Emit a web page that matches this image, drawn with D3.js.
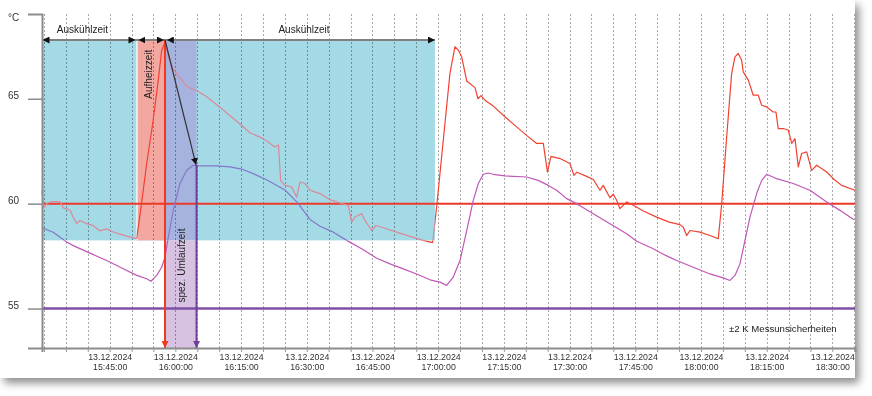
<!DOCTYPE html>
<html><head><meta charset="utf-8">
<script src="https://cdn.jsdelivr.net/npm/d3@7"></script>
<style>
body{margin:0;background:#fff;}
text{font-family:"Liberation Sans",Arial,sans-serif;}
</style>
</head><body>
<svg id="chart" width="872" height="396"></svg>
<script>
// ---------------- data ----------------
const supplyTimes = ["15:29:33","15:30:00","15:30:37","15:31:46","15:33:39","15:34:24","15:35:56","15:36:41","15:37:28","15:38:13","15:39:45","15:41:15","15:42:47","15:44:19","15:45:49","15:47:21","15:48:53","15:51:10","15:52:16","15:53:27","15:54:57","15:56:06","15:56:52","15:57:38","15:58:23","15:59:31","16:02:35","16:05:37","16:07:09","16:10:56","16:14:45","16:17:02","16:20:04","16:22:44","16:23:32","16:24:02","16:25:01","16:26:33","16:27:41","16:28:27","16:29:35","16:30:44","16:33:01","16:35:18","16:37:35","16:39:28","16:40:15","16:41:00","16:42:32","16:43:17","16:44:49","16:45:48","16:47:28","16:50:31","16:53:34","16:56:36","16:58:44","16:59:39","17:01:10","17:02:41","17:03:50","17:04:35","17:05:22","17:06:31","17:08:24","17:09:05","17:09:46","17:10:41","17:12:35","17:15:15","17:17:55","17:20:23","17:22:29","17:24:00","17:24:57","17:25:45","17:27:48","17:30:05","17:31:00","17:31:41","17:33:54","17:35:25","17:36:56","17:37:41","17:39:13","17:39:59","17:40:45","17:41:30","17:43:02","17:44:33","17:46:50","17:49:53","17:52:46","17:55:12","17:55:58","17:56:44","17:57:29","17:59:46","18:02:03","18:03:57","18:04:44","18:05:52","18:07:00","18:07:46","18:08:31","18:09:17","18:09:39","18:10:48","18:11:56","18:13:05","18:13:52","18:15:00","18:16:30","18:17:07","18:17:39","18:18:47","18:19:56","18:20:43","18:21:28","18:22:13","18:22:59","18:24:08","18:25:16","18:26:25","18:28:42","18:30:13","18:32:06","18:35:10"];
const supplyValues = [60.6,59.8,60.0,60.1,60.1,59.8,59.7,59.35,59.05,59.2,59.05,58.95,58.7,58.8,58.65,58.55,58.45,58.33,60.0,61.9,64.0,65.9,67.3,67.7,67.0,66.4,65.6,65.3,65.1,64.46,63.8,63.38,63.1,62.7,62.8,61.1,60.87,60.8,60.3,61.03,60.96,60.64,60.48,60.19,60.03,59.92,59.12,59.36,59.52,59.2,58.72,58.96,58.85,58.64,58.44,58.25,58.14,59.84,63.02,66.2,67.48,67.32,67.0,65.85,65.53,65.0,65.15,64.93,64.65,64.14,63.66,63.22,62.87,62.87,61.5,62.25,62.15,61.91,61.35,61.5,61.3,61.15,60.64,60.87,60.28,60.45,60.16,59.76,60.08,59.92,59.65,59.36,59.12,59.0,58.88,58.48,58.72,58.64,58.48,58.33,60.0,63.18,66.2,67.0,67.16,66.84,66.28,65.89,65.17,65.17,64.69,64.61,64.37,64.37,63.58,63.58,63.5,62.87,63.1,61.75,62.39,62.47,61.59,61.83,61.51,61.19,60.87,60.64];

const returnTimes = ["15:29:33","15:32:07","15:35:11","15:36:41","15:40:30","15:44:19","15:48:06","15:51:10","15:53:27","15:54:26","15:55:44","15:56:52","15:57:38","15:58:23","15:59:31","16:01:03","16:02:35","16:04:05","16:05:37","16:09:26","16:12:28","16:15:08","16:17:47","16:21:08","16:25:01","16:27:53","16:30:44","16:33:01","16:35:41","16:39:07","16:42:32","16:45:58","16:49:00","16:52:02","16:55:05","16:58:08","17:00:25","17:01:56","17:03:27","17:04:59","17:06:31","17:08:01","17:09:10","17:10:18","17:11:26","17:12:35","17:15:15","17:20:12","17:22:51","17:25:08","17:27:03","17:29:20","17:31:37","17:35:25","17:39:13","17:43:02","17:45:19","17:49:07","17:50:38","17:52:46","17:54:27","17:58:14","18:02:03","18:05:05","18:06:37","18:07:46","18:08:54","18:10:03","18:11:11","18:12:43","18:13:52","18:15:00","18:17:17","18:21:04","18:24:53","18:28:42","18:31:44","18:34:56"];
const returnValues = [58.85,58.64,58.17,58.0,57.64,57.29,56.9,56.58,56.42,56.3,56.58,56.97,57.45,58.4,59.68,60.96,61.59,61.83,61.8,61.8,61.75,61.65,61.43,61.1,60.65,60.05,59.25,58.92,58.68,58.25,57.85,57.4,57.13,56.89,56.65,56.37,56.26,56.1,56.5,57.29,58.72,60.16,60.96,61.4,61.46,61.4,61.32,61.27,61.11,60.87,60.64,60.24,60.0,59.52,59.04,58.57,58.21,57.85,57.67,57.45,57.29,56.97,56.65,56.46,56.34,56.58,57.13,58.25,59.36,60.48,61.11,61.4,61.19,60.96,60.64,60.08,59.68,59.23];

const yTickValues = [55, 60, 65];
const yUnit = "°C";
const xTickLabels = ["15:45:00","16:00:00","16:15:00","16:30:00","16:45:00","17:00:00","17:15:00","17:30:00","17:45:00","18:00:00","18:15:00","18:30:00"];
const dateLabel = "13.12.2024";
const xDomain = ["15:29:33","18:35:10"];
const yDomain = [53.12, 69.04];

const limitValues = [60, 55];            // horizontal reference lines
const phaseLabels = ["Auskühlzeit","Aufheizzeit","Auskühlzeit"];
const phaseStarts = ["15:29:33","15:51:14","15:57:38"];
const phaseEnds   = ["15:51:14","15:57:38","16:59:16"];
const bandRange = [58.25, 67.8];
const circulationLabel = "spez. Umlaufzeit";
const circulationSpan = ["15:57:38","16:04:50"];   // supply peak -> return peak
const circulationValues = [67.8, 61.85];
const uncertaintyLabel = "±2 K Messunsicherheiten";

// ---------------- setup ----------------
const parse = d3.timeParse("%H:%M:%S");
const W = 872, H = 396;
const svg = d3.select("#chart");
const x = d3.scaleTime().domain(xDomain.map(parse)).range([42, 855]);
const y = d3.scaleLinear().domain(yDomain).range([348, 14]);

const supply = supplyTimes.map((t,i)=>({t:parse(t), v:supplyValues[i]}));
const ret = returnTimes.map((t,i)=>({t:parse(t), v:returnValues[i]}));

const C = {
  cyan:"#a4dae5", pink:"#f3a7a1", peri:"#a6b3de", lav:"#d7c2e2",
  red:"#f2412f", redMuted:"#d9899b", purple:"#c057b6", purpleMuted:"#8577c9",
  limRed:"#ea3a2a", limPurple:"#7e4fa6", axis:"#8c8c8c", text:"#222"
};

const defs = svg.append("defs");
const f = defs.append("filter").attr("id","shadow").attr("x","-5%").attr("y","-5%").attr("width","112%").attr("height","115%");
f.append("feDropShadow").attr("dx",4).attr("dy",5).attr("stdDeviation",4).attr("flood-color","#000").attr("flood-opacity",0.45);

function marker(id, color){
  defs.append("marker").attr("id",id).attr("viewBox","0 0 10 10")
    .attr("refX",10).attr("refY",5).attr("markerWidth",7).attr("markerHeight",7)
    .attr("markerUnits","userSpaceOnUse").attr("orient","auto-start-reverse")
    .append("path").attr("d","M0,0L10,5L0,10Z").attr("fill",color);
}
marker("mBlack","#111"); marker("mRed","#f03a1e"); marker("mPurple","#6f3f9a");

const bandTop = y(bandRange[1]), bandBot = y(bandRange[0]);
const xs = t=>x(parse(t));
const mutedRects = [[xs(phaseStarts[0]), xs(phaseStarts[1])],
                    [xs(phaseStarts[2]), xs(phaseEnds[2])]];
const clip = defs.append("clipPath").attr("id","muted");
mutedRects.forEach(r=>clip.append("rect").attr("x",r[0]).attr("y",bandTop).attr("width",r[1]-r[0]).attr("height",bandBot-bandTop));
const mask = defs.append("mask").attr("id","normal");
mask.append("rect").attr("width",W).attr("height",H).attr("fill","#fff");
mutedRects.forEach(r=>mask.append("rect").attr("x",r[0]).attr("y",bandTop).attr("width",r[1]-r[0]).attr("height",bandBot-bandTop).attr("fill","#000"));

// card
svg.append("rect").attr("x",0).attr("y",0).attr("width",855).attr("height",378).attr("fill","#fff").attr("filter","url(#shadow)");

// ---------------- bands ----------------
const gB = svg.append("g");
gB.append("rect").attr("x",xs(phaseStarts[0])).attr("y",bandTop).attr("width",xs(phaseEnds[2])-xs(phaseStarts[0])).attr("height",bandBot-bandTop).attr("fill",C.cyan);
gB.append("rect").attr("x",xs(phaseStarts[1])).attr("y",bandTop).attr("width",xs(phaseEnds[1])-xs(phaseStarts[1])).attr("height",bandBot-bandTop).attr("fill",C.pink);
gB.append("line").attr("x1",xs(phaseStarts[1])).attr("x2",xs(phaseStarts[1])).attr("y1",bandTop).attr("y2",bandBot).attr("stroke","#fff").attr("stroke-width",1.2);
gB.append("rect").attr("x",xs(circulationSpan[0])).attr("y",bandTop).attr("width",xs(circulationSpan[1])-xs(circulationSpan[0])).attr("height",bandBot-bandTop).attr("fill",C.peri);
gB.append("rect").attr("x",xs(circulationSpan[0])).attr("y",bandBot).attr("width",xs(circulationSpan[1])-xs(circulationSpan[0])).attr("height",y(yDomain[0])-bandBot).attr("fill",C.lav);

// ---------------- grid ----------------
const gridTicks = x.ticks(d3.timeMinute.every(5));
svg.append("g").style("mix-blend-mode","multiply").selectAll("line").data(gridTicks).join("line")
  .attr("x1",d=>Math.round(x(d))+0.5).attr("x2",d=>Math.round(x(d))+0.5)
  .attr("y1",y(yDomain[1])).attr("y2",y(yDomain[0]))
  .attr("stroke","#a8a8a8").attr("stroke-width",1).attr("stroke-dasharray","2,2");

// ---------------- reference lines ----------------
svg.append("g").selectAll("line").data(limitValues).join("line")
  .attr("x1",x.range()[0]).attr("x2",x.range()[1])
  .attr("y1",d=>y(d)).attr("y2",d=>y(d))
  .attr("stroke",(d,i)=>i===0?C.limRed:C.limPurple).attr("stroke-width",(d,i)=>i===0?2:2.5);

// ---------------- series ----------------
const line = d3.line().x(d=>x(d.t)).y(d=>y(d.v));
const gL = svg.append("g").attr("fill","none").attr("stroke-linejoin","round");
gL.append("path").datum(ret).attr("d",line).attr("stroke",C.purple).attr("stroke-width",1.2).attr("mask","url(#normal)");
gL.append("path").datum(ret).attr("d",line).attr("stroke",C.purpleMuted).attr("stroke-width",1.2).attr("clip-path","url(#muted)");
gL.append("path").datum(supply).attr("d",line).attr("stroke",C.red).attr("stroke-width",1.2).attr("mask","url(#normal)");
gL.append("path").datum(supply).attr("d",line).attr("stroke",C.redMuted).attr("stroke-width",1.2).attr("clip-path","url(#muted)");

// ---------------- annotations ----------------
const gA = svg.append("g");
gA.append("line").attr("x1",xs(phaseStarts[0])).attr("x2",xs(phaseEnds[2])).attr("y1",bandTop).attr("y2",bandTop).attr("stroke","#808080").attr("stroke-width",2);
const inset = [[0.5,-1.5],[1.5,-1],[1.8,0]];
phaseStarts.forEach((s,i)=>{
  const x1 = xs(s)+inset[i][0], x2 = xs(phaseEnds[i])+inset[i][1];
  gA.append("line").attr("x1",x1).attr("x2",x2).attr("y1",bandTop).attr("y2",bandTop)
    .attr("stroke","#808080").attr("stroke-width",2)
    .attr("marker-start","url(#mBlack)").attr("marker-end","url(#mBlack)");
});
gA.append("text").attr("x",x(parse("15:38:47"))).attr("y",y(68.28)).attr("dy","0.35em").attr("text-anchor","middle")
  .attr("font-size",10).attr("fill",C.text).text(phaseLabels[0]);
gA.append("text").attr("x",x(parse("16:29:22"))).attr("y",y(68.28)).attr("dy","0.35em").attr("text-anchor","middle")
  .attr("font-size",10).attr("fill",C.text).text(phaseLabels[2]);
{
  const cx = x(parse("15:53:58")), cy = y(66.17);
  gA.append("text").attr("transform",`translate(${cx},${cy}) rotate(-90)`).attr("dy","0.35em").attr("text-anchor","middle")
    .attr("font-size",10).attr("fill",C.text).text(phaseLabels[1]);
}
{
  const cx = x(parse("16:01:30")), cy = y(57.05);
  gA.append("text").attr("transform",`translate(${cx},${cy}) rotate(-90)`).attr("dy","0.35em").attr("text-anchor","middle")
    .attr("font-size",10).attr("fill",C.text).text(circulationLabel);
}
gA.append("line").attr("x1",xs(circulationSpan[0])).attr("x2",xs(circulationSpan[0]))
  .attr("y1",bandTop).attr("y2",y(yDomain[0])).attr("stroke","#f03a1e").attr("stroke-width",2).attr("marker-end","url(#mRed)");
gA.append("line").attr("x1",xs(circulationSpan[1])).attr("x2",xs(circulationSpan[1]))
  .attr("y1",y(circulationValues[1])).attr("y2",y(yDomain[0])).attr("stroke","#6f3f9a").attr("stroke-width",2).attr("marker-end","url(#mPurple)");
gA.append("line").attr("x1",xs(circulationSpan[0])).attr("y1",y(circulationValues[0]))
  .attr("x2",xs(circulationSpan[1])-0.5).attr("y2",y(circulationValues[1]))
  .attr("stroke","#333").attr("stroke-width",1.2).attr("marker-end","url(#mBlack)");
gA.append("text").attr("x",x(parse("18:06:24"))).attr("y",y(54.04)).attr("dy","0.35em")
  .attr("font-size",9.6).attr("fill",C.text).text(uncertaintyLabel);

// ---------------- axes ----------------
const labelSet = new Set(xTickLabels);
const fmt = d3.timeFormat("%H:%M:%S");
const xAxis = d3.axisBottom(x).tickValues(gridTicks).tickSize(4).tickFormat("");
const gx = svg.append("g").attr("transform",`translate(0,${y(yDomain[0])})`).call(xAxis);
gx.select(".domain").attr("stroke",C.axis).attr("stroke-width",2);
gx.selectAll(".tick line").attr("stroke","#999");
gx.selectAll(".tick").each(function(d){
  if(!labelSet.has(fmt(d))) return;
  const t = d3.select(this).append("text").attr("fill","#333").attr("font-size",8.8).attr("text-anchor","middle");
  t.append("tspan").attr("x",0).attr("y",12).text(dateLabel);
  t.append("tspan").attr("x",0).attr("y",22).text(fmt(d));
});

const yAxis = d3.axisLeft(y).tickValues(yTickValues).tickSize(14).tickFormat(d3.format("d"));
const gy = svg.append("g").attr("transform",`translate(${x.range()[0]},0)`).call(yAxis);
gy.select(".domain").attr("stroke",C.axis).attr("stroke-width",2);
gy.selectAll(".tick line").attr("stroke",C.axis).attr("stroke-width",1.5);
gy.selectAll(".tick text").attr("x",-34).attr("dy","-0.05em").attr("text-anchor","start")
  .attr("font-size",10).attr("fill","#333").attr("font-family","Liberation Sans, Arial, sans-serif");
svg.append("text").attr("x",8).attr("y",y(yDomain[1])+6.5).attr("font-size",10).attr("fill","#333").text(yUnit);
</script>
</body></html>
